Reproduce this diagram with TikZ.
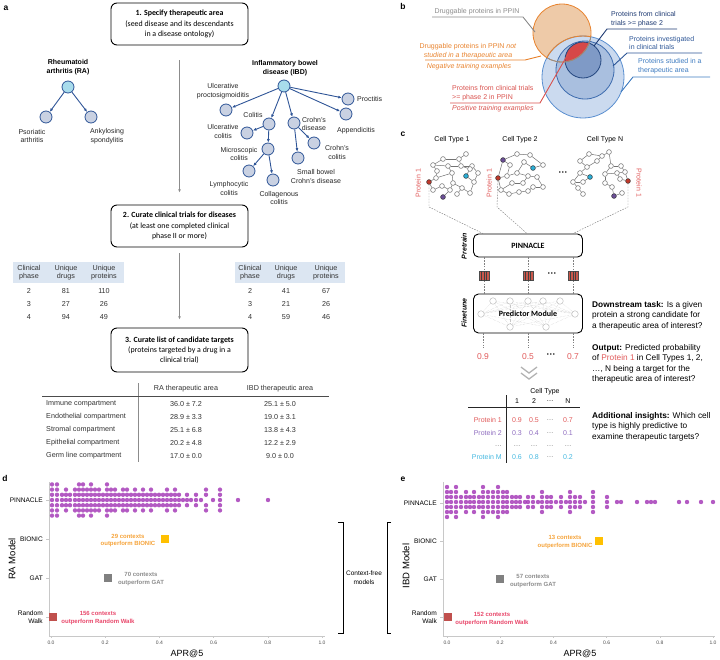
\documentclass[tikz,border=0pt]{standalone}
\usepackage{fontspec}
\setmainfont{Liberation Sans}
\newfontfamily\calib{Carlito}
\usepackage{xcolor}
\usepackage{tikz}
\usetikzlibrary{arrows.meta}
\definecolor{treeblue}{HTML}{2F5597}
\definecolor{nodefill}{HTML}{C9D1E2}
\definecolor{rootfill}{HTML}{A8DCEC}
\definecolor{headfill}{HTML}{DCE6F2}
\definecolor{flowgray}{HTML}{8C8C8C}
\definecolor{drugor}{HTML}{E8832E}
\definecolor{drugfill}{HTML}{EECAA8}
\definecolor{posred}{HTML}{D9534F}
\definecolor{lensred}{HTML}{D64848}
\definecolor{bigblue}{HTML}{CBDAEF}
\definecolor{bigline}{HTML}{5A8FD0}
\definecolor{midblue}{HTML}{A9BFDF}
\definecolor{midline}{HTML}{3C6BAE}
\definecolor{smblue}{HTML}{7F9AC6}
\definecolor{smline}{HTML}{23467F}
\definecolor{txtdark}{HTML}{1F3B73}
\definecolor{txtmid}{HTML}{2C5596}
\definecolor{txtlight}{HTML}{3F7CC0}
\definecolor{protred}{HTML}{E05A5A}
\definecolor{protpurp}{HTML}{8E6CBF}
\definecolor{protcyan}{HTML}{45B8E0}
\definecolor{ndred}{HTML}{C0392B}
\definecolor{ndpurp}{HTML}{6B4E96}
\definecolor{ndcyan}{HTML}{2AAED6}
\definecolor{swarm}{HTML}{A63DB8}
\definecolor{bionic}{HTML}{FFC000}
\definecolor{bionictxt}{HTML}{F5A33A}
\definecolor{gatgray}{HTML}{808080}
\definecolor{gattxt}{HTML}{8C8C8C}
\definecolor{rwred}{HTML}{C0504D}
\definecolor{rwtxt}{HTML}{E8476A}
\definecolor{axgray}{HTML}{C8C8C8}
\tikzset{
  panel/.style={font=\bfseries\fontsize{8.5}{10}\selectfont, inner sep=0pt},
  stepbox/.style={draw=black, line width=0.9pt, rounded corners=6pt, minimum width=137pt, minimum height=42pt, inner sep=0pt, align=center, font=\calib\fontsize{7.9}{10.2}\selectfont},
  flow/.style={draw=flowgray, line width=0.7pt, -{Latex[length=3.2pt,width=2.8pt]}},
  dis/.style={circle, draw=treeblue, fill=nodefill, line width=0.8pt, minimum size=12pt, inner sep=0pt},
  disroot/.style={dis, fill=rootfill},
  isa/.style={draw=treeblue, line width=0.9pt, -{Latex[length=3.5pt,width=3pt]}},
  tlab/.style={font=\fontsize{7}{8.8}\selectfont, align=center, inner sep=0pt, text=black!85},
  ttl/.style={font=\bfseries\fontsize{7}{9.6}\selectfont, align=center, inner sep=0pt},
  cell/.style={font=\fontsize{7.2}{8.6}\selectfont, align=center, inner sep=0pt, text=black!80},
  rule/.style={draw=black!70, line width=0.6pt},
  vlab/.style={font=\fontsize{7}{8.8}\selectfont, inner sep=0pt},
  lead/.style={line width=0.9pt},
  nd/.style={circle, draw=black!60, fill=white, line width=0.5pt, minimum size=4.8pt, inner sep=0pt},
  ndr/.style={nd, fill=ndred, draw=black!80},
  ndp/.style={nd, fill=ndpurp, draw=black!80},
  ndc/.style={nd, fill=ndcyan, draw=black!80},
  ne/.style={draw=black!55, line width=0.5pt},
  dline/.style={draw=black!50, line width=0.45pt, dash pattern=on 1.6pt off 1.2pt},
  modbox/.style={draw=black, line width=0.9pt, rounded corners=5pt, minimum width=109pt, inner sep=0pt, font=\calib\bfseries\fontsize{8}{9}\selectfont},
  emb/.style={draw=black!70, fill=ndred!85, minimum width=10pt, minimum height=9pt, inner sep=0pt, line width=0.4pt},
  stripe/.style={draw=black!75, line width=0.5pt},
  side/.style={font=\bfseries\itshape\fontsize{7}{8}\selectfont, rotate=90, inner sep=0pt},
  nn/.style={circle, draw=black!25, fill=white, line width=0.5pt, minimum size=6.5pt, inner sep=0pt},
  nl/.style={draw=black!22, line width=0.4pt, densely dotted},
  ptxt/.style={font=\fontsize{7}{8}\selectfont, text=protred, inner sep=0pt},
  ctab/.style={font=\fontsize{7}{8}\selectfont, inner sep=0pt},
  note/.style={anchor=north west, align=left, inner sep=0pt, font=\fontsize{8.3}{10.4}\selectfont},
  axis/.style={draw=axgray, line width=0.9pt},
  tickl/.style={font=\fontsize{5}{6}\selectfont, text=black!70, inner sep=0pt},
  catl/.style={font=\fontsize{6.6}{8}\selectfont, align=right, inner sep=0pt, anchor=east},
  cnt/.style={font=\bfseries\fontsize{6}{7.8}\selectfont, align=center, inner sep=0pt},
  sq/.style={minimum size=8pt, inner sep=0pt},
  axt/.style={font=\fontsize{9}{10}\selectfont, inner sep=0pt},
  brk/.style={draw=black, line width=0.9pt},
  dotp/.style={fill=swarm, fill opacity=0.85},
}
\newcommand{\beeswarm}[3]{%
  \foreach \x/\n in {#3}{%
    \foreach \k in {1,...,\n}{%
      \pgfmathsetmacro\o{ifthenelse(mod(\n,2)==1, \k-(\n+1)/2, sign(\k-\n/2-0.5)*(abs(\k-\n/2-0.5)+0.5))}%
      \fill[dotp] (\x,{#1+#2*\o}) circle (2.2);
    }}}
\begin{document}
\begin{tikzpicture}[x=1pt,y=-1pt]
  \useasboundingbox (0,0) rectangle (720,659);

  % a: steps
  \node[panel] (pa) at (6,8) {a};
  \node[stepbox] (s1) at (179.5,24) {\textbf{1. Specify therapeutic area}\\(seed disease and its descendants\\in a disease ontology)};
  \node[stepbox] (s2) at (179.5,226) {\textbf{2. Curate clinical trials for diseases}\\(at least one completed clinical\\phase II or more)};
  \node[stepbox, minimum height=44pt] (s3) at (179.5,350) {\textbf{3. Curate list of candidate targets}\\(proteins targeted by a drug in a\\clinical trial)};
  \draw[flow, shorten <=15pt, shorten >=12pt] (s1) -- (s2);
  \draw[flow, shorten <=6pt, shorten >=8pt] (s2) -- (s3);

  % RA tree
  \node[ttl] (rat) at (68,67) {Rheumatoid\\arthritis (RA)};
  \node[disroot] (ra) at (68,87) {};
  \node[dis] (ps) at (46,117) {};
  \node[dis] (as) at (91,117) {};
  \node[tlab] (psl) at (32,136) {Psoriatic\\arthritis};
  \node[tlab] (asl) at (107,136) {Ankylosing\\spondylitis};
  \draw[isa] (ra) -- (ps);
  \draw[isa] (ra) -- (as);

  % IBD tree
  \node[ttl] (ibdt) at (285,68) {Inflammatory bowel\\disease (IBD)};
  \node[disroot] (ibd) at (284,86) {};
  \foreach \n/\x/\y in {up/226/110, pr/348/99, ap/346/114, co/269/124, cd/294/123, uc/247/133,
                        mc/268/149, cc/314/143, sb/298/158, ly/249/171, cg/273/180}
    \node[dis] (\n) at (\x,\y) {};
  \foreach \a/\b in {ibd/up, ibd/pr, ibd/ap, ibd/co, ibd/cd, co/uc, co/mc, mc/ly, mc/cg, cd/cc, cd/sb}
    \draw[isa] (\a) -- (\b);
  \node[tlab] (upl) at (223,91.5) {Ulcerative\\proctosigmoiditis};
  \node[tlab, anchor=west] (prl) at (357,99) {Proctitis};
  \node[tlab] (apl) at (356,131) {Appendicitis};
  \node[tlab] (col) at (253,115) {Colitis};
  \node[tlab] (cdl) at (314,124) {Crohn's\\disease};
  \node[tlab] (ucl) at (223,131.5) {Ulcerative\\colitis};
  \node[tlab] (mcl) at (239,154) {Microscopic\\colitis};
  \node[tlab] (ccl) at (337,152.5) {Crohn's\\colitis};
  \node[tlab] (sbl) at (316,176.5) {Small bowel\\Crohn's disease};
  \node[tlab] (lyl) at (229,188.5) {Lymphocytic\\colitis};
  \node[tlab] (cgl) at (279,198) {Collagenous\\colitis};

  % trial tables
  \fill[headfill] (13,262) rectangle (124,283);
  \fill[headfill] (235,262) rectangle (345,283);
  \foreach \t/\c/\x in {Clinical\\phase/1/29, Unique\\drugs/2/66, Unique\\proteins/3/104}
    \node[cell] (lh\c) at (\x,272.5) {\t};
  \foreach \t/\c/\x in {Clinical\\phase/1/250, Unique\\drugs/2/286, Unique\\proteins/3/326}
    \node[cell] (rh\c) at (\x,272.5) {\t};
  \foreach \r/\y/\a/\b/\c in {1/291/2/81/110, 2/304/3/27/26, 3/317/4/94/49}{
    \node[cell] (lt\r-1) at (29,\y) {\a};
    \node[cell] (lt\r-2) at (66,\y) {\b};
    \node[cell] (lt\r-3) at (104,\y) {\c};
  }
  \foreach \r/\y/\a/\b/\c in {1/291/2/41/67, 2/304/3/21/26, 3/317/4/59/46}{
    \node[cell] (rt\r-1) at (250,\y) {\a};
    \node[cell] (rt\r-2) at (286,\y) {\b};
    \node[cell] (rt\r-3) at (326,\y) {\c};
  }

  % compartment table
  \draw[rule, draw=black!45, line width=0.9pt] (138,383) -- (138,462);
  \draw[rule] (42,396) -- (329,396);
  \node[cell] (hra) at (186,389) {RA therapeutic area};
  \node[cell] (hibd) at (280,389) {IBD therapeutic area};
  \foreach \t/\a/\b/\y [count=\i] in {Immune compartment/36.0 ± 7.2/25.1 ± 5.0/404,
      Endothelial compartment/28.9 ± 3.3/19.0 ± 3.1/417,
      Stromal compartment/25.1 ± 6.8/13.8 ± 4.3/430,
      Epithelial compartment/20.2 ± 4.8/12.2 ± 2.9/443,
      Germ line compartment/17.0 ± 0.0/9.0 ± 0.0/456}{
    \node[cell, anchor=west] (cn\i) at (46,\y) {\t};
    \node[cell] (cra\i) at (186,\y) {\a};
    \node[cell] (cibd\i) at (280,\y) {\b};
  }

  % b: venn
  \node[panel] (pb) at (403,6) {b};
  \fill[drugfill] (562,33) circle (29);
  \fill[bigblue] (583,77) circle (41);
  \fill[midblue] (585,70) circle (29);
  \fill[smblue] (583,60) circle (18);
  \begin{scope}
    \clip (562,33) circle (29);
    \fill[lensred] (583,60) circle (18);
  \end{scope}
  \draw[bigline, line width=0.8pt] (583,77) circle (41);
  \draw[midline, line width=0.8pt] (585,70) circle (29);
  \draw[smline, line width=0.8pt] (583,60) circle (18);
  \draw[drugor, line width=0.8pt] (562,33) circle (29);
  \begin{scope}
    \clip (583,77) circle (41);
    \draw[gattxt, line width=0.8pt] (562,33) circle (29);
  \end{scope}
  \begin{scope}
    \clip (562,33) circle (29);
    \draw[drugor, line width=0.9pt] (583,77) circle (41);
  \end{scope}

  \node[vlab, text=gattxt] (dpl) at (477,12) {Druggable proteins in PPIN};
  \coordinate (dpe) at (535,32);
  \draw[lead, gattxt] (432,17) -- (523,17) -- (dpe);
  \node[vlab, text=drugor, align=center] (dpn) at (468,51.5) {Druggable proteins in PPIN \textit{not}\\\textit{studied in a therapeutic area}};
  \coordinate (dne) at (541,56);
  \draw[lead, drugor] (425,60) -- (525,60) -- (dne);
  \node[vlab, text=drugor] (neg) at (469,67) {\textit{Negative training examples}};
  \node[vlab, text=posred, anchor=west, align=left] (pos) at (452,93.5) {Proteins from clinical trials\\>= phase 2 in PPIN};
  \coordinate (pse) at (568,54);
  \draw[lead, posred] (450,103) -- (540,103) -- (pse);
  \node[vlab, text=posred, anchor=west] (posx) at (452,109) {\textit{Positive training examples}};
  \node[vlab, text=txtdark, anchor=west, align=left] (ph2) at (611,19.5) {Proteins from clinical\\trials >= phase 2};
  \coordinate (ph2e) at (594,46);
  \draw[lead, txtdark] (677,29) -- (607,29) -- (ph2e);
  \node[vlab, text=txtmid, anchor=west, align=left] (inv) at (629,43) {Proteins investigated\\in clinical trials};
  \coordinate (inve) at (613,66);
  \draw[lead, txtmid] (702,53) -- (627,53) -- (inve);
  \node[vlab, text=txtlight, anchor=west, align=left] (stu) at (638,66.5) {Proteins studied in a\\therapeutic area};
  \coordinate (stue) at (621,92);
  \draw[lead, txtlight] (710,77) -- (633,77) -- (stue);

  % c: cell type networks
  \node[panel] (pc) at (403,134) {c};
  \node[vlab] (ct1) at (452,140) {Cell Type 1};
  \node[vlab] (ct2) at (520,140) {Cell Type 2};
  \node[vlab] (ctn) at (605,140) {Cell Type N};
  \begin{scope}[shift={(425,150)}]
    \foreach \i/\x/\y in {1/41/4, 2/18/9, 3/34/9, 4/8/15, 5/23/16, 6/36/16, 7/47/16, 8/12/21, 9/27/23, 10/45/19,
                          11/53/23, 12/11/28, 15/28/33, 16/49/32, 17/17/36, 18/8/40, 19/25/40, 20/37/38, 21/32/44, 23/45/43}
      \node[nd] (g1-\i) at (\x,\y) {};
    \node[ndc] (g1-13) at (41,26) {};
    \node[ndr] (g1-14) at (4,32) {};
    \node[ndp] (g1-22) at (18,47) {};
    \foreach \a/\b in {1/3, 2/3, 3/6, 2/4, 4/8, 8/12, 12/14, 4/5, 5/9, 6/10, 6/7, 7/11, 10/13, 11/16, 13/16, 9/15,
                       9/12, 15/20, 15/19, 19/17, 17/18, 14/18, 19/22, 20/21, 20/23, 16/23, 5/6}
      \draw[ne] (g1-\a) -- (g1-\b);
  \end{scope}
  \begin{scope}[shift={(495,150)}]
    \foreach \i/\x/\y in {2/22/4, 3/35/5, 4/48/15, 6/29/12, 7/15/15, 9/12/26, 10/22/23, 11/33/26, 12/42/27,
                          13/48/37, 14/38/37, 15/28/33, 16/17/33, 17/6/40, 18/24/42, 19/14/44, 20/33/41}
      \node[nd] (g2-\i) at (\x,\y) {};
    \node[ndp] (g2-1) at (8,10) {};
    \node[ndc] (g2-5) at (38,18) {};
    \node[ndr] (g2-8) at (3,28) {};
    \foreach \a/\b in {1/2, 2/3, 3/4, 4/5, 5/6, 6/10, 1/7, 7/9, 1/8, 8/9, 9/10, 10/11, 11/12, 12/13, 13/14,
                       11/15, 15/16, 16/17, 17/19, 19/18, 18/20, 20/14, 8/17}
      \draw[ne] (g2-\a) -- (g2-\b);
  \end{scope}
  \node[font=\bfseries\fontsize{9}{9}\selectfont, inner sep=0pt] (gdots) at (563,174) {···};
  \begin{scope}[shift={(565,150)}]
    \foreach \i/\x/\y in {1/24/4, 2/37/6, 3/44/2, 4/15/11, 5/32/11, 6/22/17, 7/46/16, 8/56/16, 9/15/23, 11/8/32,
                          12/18/32, 13/13/38, 14/18/44, 15/40/24, 16/52/23, 17/60/22, 18/55/29, 20/40/33, 21/47/37, 23/57/43}
      \node[nd] (gn-\i) at (\x,\y) {};
    \node[ndc] (gn-10) at (25,27) {};
    \node[ndr] (gn-19) at (63,31) {};
    \node[ndp] (gn-22) at (49,46) {};
    \foreach \a/\b in {1/2, 2/3, 1/4, 4/6, 2/5, 5/6, 3/7, 7/8, 8/17, 6/9, 9/10, 10/12, 9/11, 11/12, 11/13, 13/14,
                       15/16, 16/17, 16/18, 18/19, 17/19, 15/20, 20/21, 7/15, 22/23, 21/22}
      \draw[ne] (gn-\a) -- (gn-\b);
  \end{scope}
  \node[ptxt, rotate=90] (p1a) at (418,183) {Protein 1};
  \node[ptxt, rotate=90] (p1b) at (489,183) {Protein 1};
  \node[ptxt, rotate=-90] (p1c) at (639,183) {Protein 1};

  % pretrain
  \node[modbox, minimum height=23pt] (pin) at (528,245.5) {PINNACLE};
  \node[side] (ptr) at (464,246) {Pretrain};
  \coordinate (d1) at (429,207);
  \coordinate (d2) at (497,207);
  \coordinate (dn) at (628,207);
  \draw[dline] (g1-14) -- (d1) -- ([xshift=-45pt]pin.north);
  \draw[dline] (g2-8) -- (d2) -- ([xshift=-1pt]pin.north);
  \draw[dline] (gn-19) -- (dn) -- ([xshift=45pt]pin.north);
  \foreach \e/\x in {e1/484, e2/528, en/573}{
    \node[emb] (\e) at (\x,276) {};
    \foreach \d in {-2.5,0,2.5}
      \draw[stripe] ([xshift=\d pt]\e.north) -- ([xshift=\d pt]\e.south);
    \draw[dline] (\e |- pin.south) -- (\e);
  }
  \node[font=\bfseries\fontsize{9}{9}\selectfont, inner sep=0pt] (edots) at (552,275) {···};

  % finetune
  \foreach \i/\x/\y in {1/493/301, 2/510/301, 3/528/301, 4/543/301, 5/560/301, 6/481/314, 7/575/314, 8/510/327, 9/546/327}
    \node[nn] (nn\i) at (\x,\y) {};
  \foreach \a in {1,...,5}
    \foreach \b in {6,7,8,9}
      \draw[nl] (nn\a) -- (nn\b);
  \foreach \a in {6,7}
    \foreach \b in {8,9}
      \draw[nl] (nn\a) -- (nn\b);
  \node[modbox, minimum height=39pt] (pm) at (528,313.5) {Predictor Module};
  \node[side] (ftn) at (464,313) {Finetune};
  \foreach \e in {e1,e2,en}
    \draw[dline] (\e) -- (\e |- pm.north);
  \foreach \v/\x [count=\i] in {0.9/483, 0.5/528, 0.7/573}{
    \node[ptxt, font=\fontsize{8.5}{9}\selectfont] (o\i) at (\x,357) {\v};
    \draw[dline, shorten >=6pt] (o\i |- pm.south) -- (o\i.north);
  }
  \node[font=\bfseries\fontsize{9}{9}\selectfont, inner sep=0pt] (odots) at (551,356) {···};
  \draw[black!30, line width=1.3pt] (521,367) -- (529,373) -- (537,367);
  \draw[black!30, line width=1.3pt] (521,373) -- (529,379) -- (537,373);

  % c: output table
  \node[ctab] (cth) at (545,392) {Cell Type};
  \foreach \t/\x [count=\i] in {1/517, 2/534, …/550, N/568}
    \node[ctab] (ch\i) at (\x,401) {\t};
  \draw[black!85, line width=1pt] (506,395) -- (506,463);
  \draw[black!85, line width=1pt] (468,407) -- (580,407);
  \foreach \p/\c/\y/\a/\b/\z [count=\r] in {Protein 1/protred/420/0.9/0.5/0.7, Protein 2/protpurp/433/0.3/0.4/0.1,
                                           …/black!55/446/…/…/…, Protein M/protcyan/457/0.6/0.8/0.2}{
    \node[ctab, text=\c, anchor=east] (rw\r) at (502,\y) {\p};
    \node[ctab, text=\c] (rw\r-1) at (517,\y) {\a};
    \node[ctab, text=\c] (rw\r-2) at (534,\y) {\b};
    \node[ctab, text=black!55] (rw\r-3) at (550,\y) {…};
    \node[ctab, text=\c] (rw\r-4) at (568,\y) {\z};
  }

  % c: notes
  \node[note] (dst) at (592,301) {\textbf{Downstream task:} Is a given\\protein a strong candidate for\\a therapeutic area of interest?};
  \node[note] (outp) at (592,344) {\textbf{Output:} Predicted probability\\of \textcolor{protred}{Protein 1} in Cell Types 1, 2,\\…, N being a target for the\\therapeutic area of interest?};
  \node[note] (addi) at (592,412) {\textbf{Additional insights:} Which cell\\type is highly predictive to\\examine therapeutic targets?};

  % d: RA swarm
  \node[panel] (pd) at (5,478) {d};
  \draw[axis] (49,482) -- (49,636) -- (325,636);
  \foreach \v [count=\i] in {0.0,0.2,0.4,0.6,0.8,1.0}{
    \draw[axis, line width=0.5pt] ({51+271*\v},636) -- ++(0,2);
    \node[tickl] (dt\i) at ({51+271*\v},643) {\v};
  }
  \foreach \t/\y [count=\i] in {PINNACLE/500, BIONIC/539, GAT/578, Random\\Walk/617}{
    \draw[axis, line width=0.5pt] (46,\y) -- (49,\y);
    \node[catl] (dc\i) at (43,\y) {\t};
  }
  \beeswarm{500}{5.2}{52/7, 57/7, 62/3, 66/5, 70/3, 75/5, 79/7, 83/7, 87/5, 91/7, 95/5, 99/5, 103/3, 107/7,
    111/5, 115/5, 119/3, 123/5, 127/5, 131/3, 135/5, 139/3, 143/5, 147/3, 151/5, 155/3, 159/3, 163/3, 167/5,
    171/3, 175/5, 179/3, 183/1, 187/3, 191/1, 196/3, 201/1, 206/4, 213/1, 220/5, 238/1, 268/1}
  \node[sq, fill=bionic] (bd) at (165,539) {};
  \node[sq, fill=gatgray] (gd) at (108,578) {};
  \node[sq, fill=rwred] (rd) at (53,617) {};
  \node[cnt, text=bionictxt] (bdt) at (128,540.5) {29 contexts\\outperform BIONIC};
  \node[cnt, text=gattxt] (gdt) at (141,579) {70 contexts\\outperform GAT};
  \node[cnt, text=rwtxt] (rdt) at (98,618) {156 contexts\\outperform Random Walk};
  \node[axt] (axd) at (187,654) {APR@5};
  \node[axt, font=\fontsize{9.5}{10}\selectfont, rotate=90] (yld) at (12,559) {RA Model};

  % context-free bracket
  \draw[brk] (338,522) -- (343,522) -- (343,633) -- (338,633);
  \draw[brk] (391,522) -- (387,522) -- (387,633) -- (391,633);
  \node[cnt, font=\fontsize{6.5}{8.5}\selectfont] (cfm) at (364,577.5) {Context-free\\models};

  % e: IBD swarm
  \node[panel] (pe) at (403,479) {e};
  \draw[axis] (443,482) -- (443,636) -- (715,636);
  \foreach \v [count=\i] in {0.0,0.2,0.4,0.6,0.8,1.0}{
    \draw[axis, line width=0.5pt] ({447+266*\v},636) -- ++(0,2);
    \node[tickl] (et\i) at ({447+266*\v},643) {\v};
  }
  \foreach \t/\y [count=\i] in {PINNACLE/503, BIONIC/541, GAT/579, Random\\Walk/617}{
    \draw[axis, line width=0.5pt] (440,\y) -- (443,\y);
    \node[catl] (ec\i) at (437,\y) {\t};
  }
  \beeswarm{502}{5}{447/7, 451/5, 456/7, 461/3, 466/5, 470/3, 474/5, 479/3, 483/7, 488/5, 493/5, 498/7, 503/5,
    507/5, 512/3, 516/3, 520/3, 525/1, 528/3, 533/3, 538/1, 542/5, 547/3, 551/3, 556/1, 561/3, 566/1, 570/5,
    575/3, 580/3, 585/1, 593/5, 607/3, 617/1, 621/1, 637/1, 647/1, 651/1, 655/1, 679/1, 687/1, 701/1, 713/1}
  \node[sq, fill=bionic] (be) at (599,541) {};
  \node[sq, fill=gatgray] (ge) at (500,579) {};
  \node[sq, fill=rwred] (re) at (448,617) {};
  \node[cnt, text=bionictxt] (bet) at (565,542) {13 contexts\\outperform BIONIC};
  \node[cnt, text=gattxt] (get) at (533,581) {57 contexts\\outperform GAT};
  \node[cnt, text=rwtxt] (ret) at (492,619) {152 contexts\\outperform Random Walk};
  \node[axt] (axe) at (580,654) {APR@5};
  \node[axt, font=\fontsize{9.5}{10}\selectfont, rotate=90] (yle) at (406,566) {IBD Model};
\end{tikzpicture}
\end{document}
